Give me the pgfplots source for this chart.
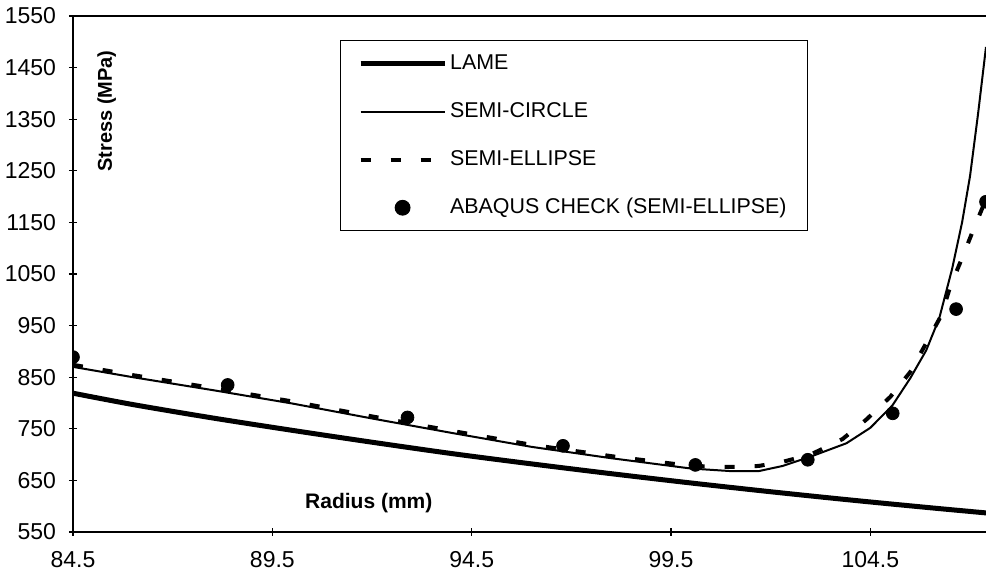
\documentclass[border=0pt]{standalone}
\usepackage{fontspec}
\setmainfont{Liberation Sans}
\usepackage{pgfplots}
\pgfplotsset{compat=1.18}

\begin{document}
\begin{tikzpicture}
\begin{axis}[
    scale only axis,
    width=456.5pt, height=258pt,
    xmin=84.5, xmax=107.4,
    ymin=550, ymax=1550,
    axis x line*=bottom, axis y line*=left,
    axis line style={-, line width=1.3pt},
    xtick={84.5,89.5,94.5,99.5,104.5},
    xticklabels={84.5,89.5,94.5,99.5,104.5},
    ytick={550,650,750,850,950,1050,1150,1250,1350,1450,1550},
    yticklabels={550,650,750,850,950,1050,1150,1250,1350,1450,1550},
    tick align=center,
    major tick length=4pt,
    tick style={black, line width=0.6pt},
    ticklabel style={font=\fontsize{11.5}{13}\selectfont},
    xticklabel style={yshift=-4pt},
    yticklabel style={xshift=-3pt},
    clip marker paths=true,
    legend image code/.code={\draw[#1] (0pt,0pt) -- (42pt,0pt);},
    legend cell align=left,
    legend style={at={(0.292,0.953)}, anchor=north west, draw=black,
        line width=0.5pt, inner xsep=9pt, inner ysep=5pt,
        font=\fontsize{10.7}{13}\selectfont, row sep=11pt,
        nodes={inner sep=1.5pt, text height=8pt, text depth=2pt}},
]
% Lame solution
\addplot[black, line width=2.5pt, smooth] coordinates {
    (84.5,819) (86,797) (88,771) (90,747) (92,724) (94,702) (96,682)
    (98,663) (100,645) (102,628) (104,612) (106,597) (107.4,587)
};
% semi-circle
\addplot[black, line width=1pt] coordinates {
    (84.5,870) (86,850) (88,825) (90,799) (92,770) (94,742) (96,715)
    (98,693) (100,673) (101,668) (101.7,668) (102.3,678) (103,696)
    (103.9,722) (104.5,752) (105.05,795) (105.5,848) (105.9,902)
    (106.23,965) (106.55,1060) (106.8,1150) (107.0,1240) (107.2,1360)
    (107.4,1490)
};
% semi-ellipse
\addplot[black, line width=2pt, dash pattern=on 5pt off 10pt] coordinates {
    (84.5,874) (86,854) (88,829) (90,803) (92,774) (94,746) (96,719)
    (98,697) (100,678) (101,676) (101.7,678) (102.3,686) (103,700)
    (103.8,730) (104.4,768) (105,812) (105.5,860) (105.9,916)
    (106.28,970) (106.5,1025) (106.8,1081) (107.1,1139) (107.4,1195)
};
% abaqus check
\addplot[only marks, mark=*, mark size=3.2pt, black,
    legend image code/.code={\fill[black] (21pt,0pt) circle (3.7pt);}] coordinates {
    (84.5,889) (88.38,835) (92.89,772) (96.79,717) (100.11,680)
    (102.93,690) (105.06,780) (106.65,982) (107.4,1190)
};
\legend{LAME, SEMI-CIRCLE, SEMI-ELLIPSE, ABAQUS CHECK (SEMI-ELLIPSE)}

\node[rotate=90, font=\bfseries\fontsize{10}{12}\selectfont]
    at (rel axis cs:0.037,0.816) {Stress (MPa)};
\node[font=\bfseries\fontsize{10.5}{12}\selectfont]
    at (rel axis cs:0.324,0.056) {Radius (mm)};

\coordinate (sw) at (rel axis cs:0,0);
\coordinate (tl) at (rel axis cs:0,1);
\coordinate (tr) at (rel axis cs:1,1);
\end{axis}
\draw[line width=1pt] (tl) -- (tr);
\pgfresetboundingbox
\path ([xshift=-36.5pt,yshift=-23pt]sw) rectangle ([yshift=8pt]tr);
\end{tikzpicture}
\end{document}
